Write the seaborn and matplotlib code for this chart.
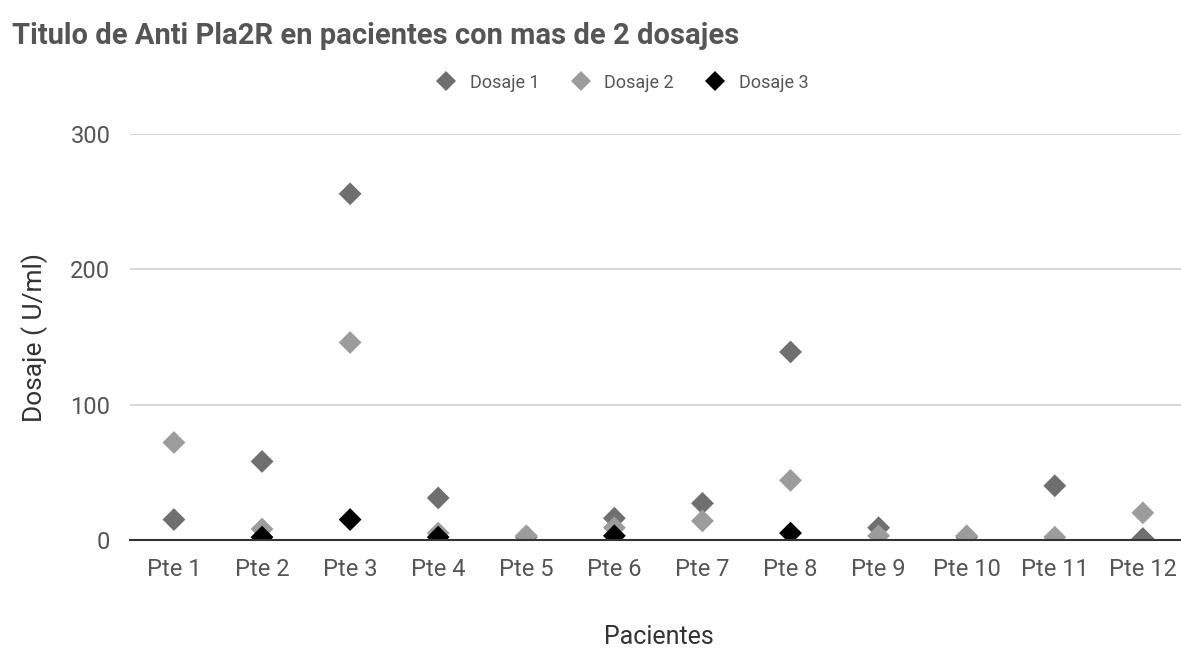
import numpy as np
import pandas as pd
import matplotlib
matplotlib.use("Agg")
import matplotlib.pyplot as plt
import seaborn as sns

pacientes = ["Pte 1", "Pte 2", "Pte 3", "Pte 4", "Pte 5", "Pte 6",
             "Pte 7", "Pte 8", "Pte 9", "Pte 10", "Pte 11", "Pte 12"]
dosaje1 = [15, 58, 256, 31, 2, 16, 27, 139, 9, 2, 40, 1]
dosaje2 = [72, 8, 146, 5, 3, 9, 14, 44, 3, 3, 2, 20]
dosaje3 = [np.nan, 2, 15, 2, np.nan, 3, np.nan, 5, np.nan, np.nan, np.nan, np.nan]
series = ["Dosaje 1", "Dosaje 2", "Dosaje 3"]
colors = ["#6f6f6f", "#9c9c9c", "#000000"]
yticks = [0, 100, 200, 300]

rows = []
for name, vals in zip(series, [dosaje1, dosaje2, dosaje3]):
    for p, v in zip(pacientes, vals):
        rows.append({"Pacientes": p, "Dosaje": v, "Serie": name})
df = pd.DataFrame(rows).dropna()

sns.set_theme(style="white")
plt.rcParams["font.family"] = ["Roboto", "DejaVu Sans"]

fig = plt.figure(figsize=(11.81, 6.52), dpi=100)
ax = fig.add_axes([0.110, 0.172, 0.895, 0.622])

sns.scatterplot(data=df, x="Pacientes", y="Dosaje", hue="Serie",
                hue_order=series, palette=colors, marker="D", s=135,
                edgecolor="none", linewidth=0, ax=ax, legend=True, zorder=3)

ax.set_xlim(-0.5, 11.5)
ax.set_ylim(0, 300)
ax.set_yticks(yticks)
ax.set_yticklabels([str(t) for t in yticks])
ax.grid(axis="y", color="#d0d0d0", linewidth=1.2)
ax.grid(axis="x", visible=False)
for s in ["top", "right", "left"]:
    ax.spines[s].set_visible(False)
ax.spines["bottom"].set_color("#333333")
ax.spines["bottom"].set_linewidth(1.5)
ax.spines["bottom"].set_zorder(4)
ax.tick_params(axis="both", length=0, labelsize=17, colors="#555555")
ax.tick_params(axis="x", pad=13)
ax.tick_params(axis="y", pad=14)
ax.set_xlabel("Pacientes", fontsize=18, color="#333333", labelpad=32)
ax.set_ylabel("Dosaje ( U/ml)", fontsize=19, color="#333333", labelpad=16)

handles, labels = ax.get_legend_handles_labels()
leg = ax.legend(handles, labels, loc="lower center", bbox_to_anchor=(0.462, 1.065),
                ncol=3, frameon=False, fontsize=13, handletextpad=0.3,
                columnspacing=1.3, markerscale=0.85)
for t in leg.get_texts():
    t.set_color("#555555")

fig.text(0.010, 0.945, "Titulo de Anti Pla2R en pacientes con mas de 2 dosajes",
         fontsize=21, fontweight="bold", color="#555555", ha="left", va="center")

fig.savefig("out.png", dpi=100, facecolor="white")
